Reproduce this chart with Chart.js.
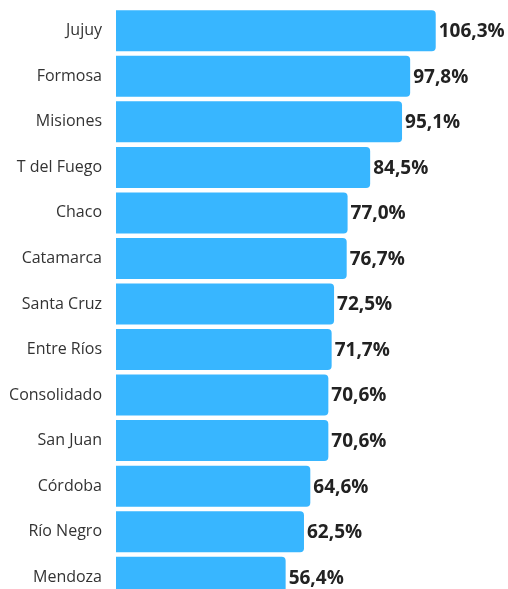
<!DOCTYPE html>
<html>
<head>
<meta charset="utf-8">
<script src="https://cdn.jsdelivr.net/npm/chart.js@4"></script>
<style>
html,body{margin:0;padding:0;background:#fff;overflow:hidden;}
#wrap{width:508px;height:600px;position:relative;}
</style>
</head>
<body>
<div id="wrap"><canvas id="c"></canvas></div>
<script>
const categories = ["Jujuy","Formosa","Misiones","T del Fuego","Chaco","Catamarca","Santa Cruz","Entre Ríos","Consolidado","San Juan","Córdoba","Río Negro","Mendoza"];
const values = [106.3, 97.8, 95.1, 84.5, 77.0, 76.7, 72.5, 71.7, 70.6, 70.6, 64.6, 62.5, 56.4];
const xMin = 0;
const xMax = 130;

const valueLabels = {
  id: 'valueLabels',
  afterDatasetsDraw(chart) {
    const ctx = chart.ctx;
    const meta = chart.getDatasetMeta(0);
    ctx.save();
    ctx.font = 'bold 19px "Open Sans", sans-serif';
    ctx.fillStyle = '#222';
    ctx.textAlign = 'left';
    ctx.textBaseline = 'middle';
    meta.data.forEach((bar, i) => {
      const txt = values[i].toFixed(1).replace('.', ',') + '%';
      ctx.fillText(txt, bar.x + 3, bar.y + 1);
    });
    ctx.restore();
  }
};

new Chart(document.getElementById('c'), {
  type: 'bar',
  data: {
    labels: categories,
    datasets: [{
      data: values,
      backgroundColor: '#38b6ff',
      borderRadius: 4,
      borderSkipped: 'start',
      categoryPercentage: 1,
      barPercentage: 0.9
    }]
  },
  options: {
    indexAxis: 'y',
    responsive: true,
    maintainAspectRatio: false,
    animation: false,
    layout: { padding: { top: 8, bottom: 0, left: 0, right: 1 } },
    plugins: { legend: { display: false }, tooltip: { enabled: false } },
    scales: {
      x: { display: false, min: xMin, max: xMax },
      y: {
        grid: { display: false, drawTicks: false },
        border: { display: false },
        ticks: { padding: 14, color: '#333', font: { family: '"Open Sans", sans-serif', size: 16 } },
        afterFit(scale) { scale.width = 116; scale.paddingTop = 0; scale.paddingBottom = 0; }
      }
    }
  },
  plugins: [valueLabels]
});
</script>
</body>
</html>
